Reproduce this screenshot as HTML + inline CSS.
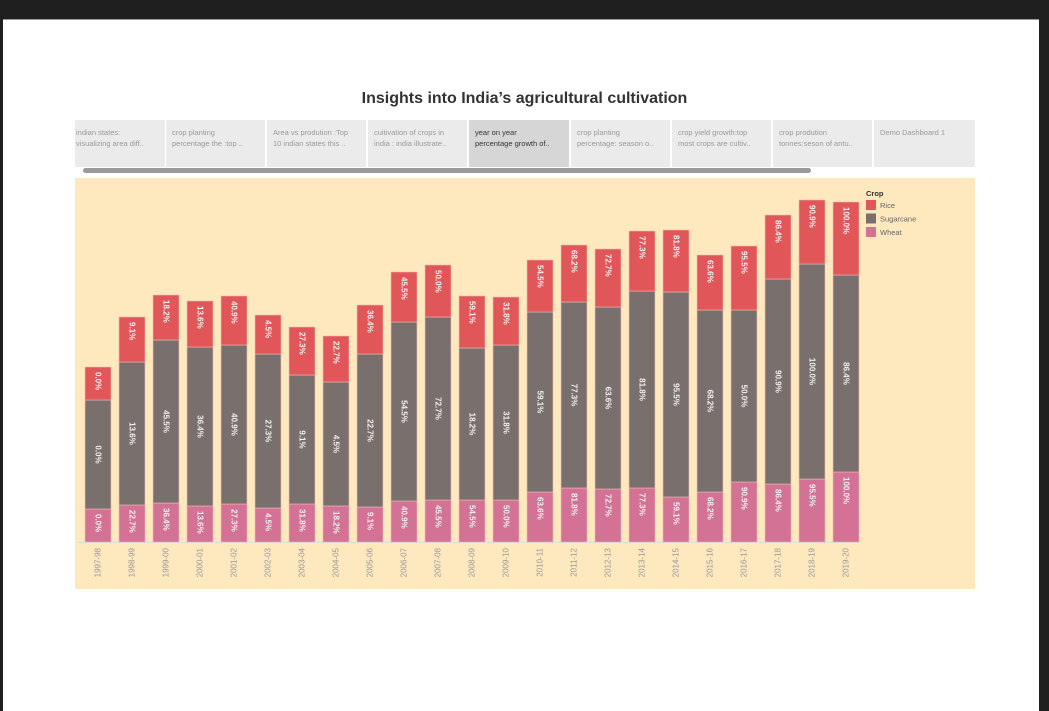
<!DOCTYPE html>
<html><head><meta charset="utf-8">
<style>
body{margin:0;width:1049px;height:710px;background:#1f1f1f;position:relative;overflow:hidden;font-family:"Liberation Sans",sans-serif;}
#page{position:absolute;left:3px;top:19px;width:1036px;height:691px;background:#fff;border-top:1px solid #999;}
#title{position:absolute;left:0;width:1049px;top:90px;text-align:center;font-size:16px;font-weight:bold;color:#333;}
.tab{position:absolute;top:120px;height:47px;width:99px;background:#ebebeb;color:#999;font-size:7.5px;line-height:11px;padding:7px 0 0 6px;box-sizing:border-box;overflow:hidden;white-space:nowrap;}
.tab.active{background:#d6d6d6;color:#333;}
#scroll{position:absolute;left:83px;top:168px;width:728px;height:5px;border-radius:3px;background:#9a9a9a;}
#panel{position:absolute;left:75px;top:178px;width:900px;height:411px;background:#fee8be;}
svg{position:absolute;left:0;top:0;}
</style></head>
<body>
<div id="page"></div>
<div id="title">Insights into India’s agricultural cultivation</div>
<div class="tab" style="left:75px;width:90px;padding-left:1px">indian states:<br>visualizing area diff..</div>
<div class="tab" style="left:166px">crop planting<br>percentage the :top ..</div>
<div class="tab" style="left:267px">Area vs prodution :Top<br>10 indian states this ..</div>
<div class="tab" style="left:368px">cuitivation of crops in<br>india : india illustrate..</div>
<div class="tab active" style="left:469px;width:100px">year on year<br>percentage growth of..</div>
<div class="tab" style="left:571px">crop planting<br>percentage: season o..</div>
<div class="tab" style="left:672px">crop yield growth:top<br>most crops are cultiv..</div>
<div class="tab" style="left:773px">crop prodution<br>tonnes:seson of antu..</div>
<div class="tab" style="left:874px;width:101px">Demo Dashboard 1</div>
<div id="scroll"></div>
<div id="panel"></div>
<svg id="chart" width="1049" height="710"></svg>
<script>
const categories=["1997-98","1998-99","1999-00","2000-01","2001-02","2002-03","2003-04","2004-05","2005-06","2006-07","2007-08","2008-09","2009-10","2010-11","2011-12","2012-13","2013-14","2014-15","2015-16","2016-17","2017-18","2018-19","2019-20"];
const wheatValues=[33,37,39,36,38,34,38,36,35,41,42,42,42,50,54,53,54,45,50,60,58,63,70];
const sugarcaneValues=[109,143,163,159,159,154,129,124,153,179,183,152,155,180,186,182,197,205,182,172,205,215,197];
const riceValues=[33,45,45,46,49,39,48,46,49,50,52,52,48,52,57,58,60,62,55,64,64,64,73];
const riceLabels=["0.0%","9.1%","18.2%","13.6%","40.9%","4.5%","27.3%","22.7%","36.4%","45.5%","50.0%","59.1%","31.8%","54.5%","68.2%","72.7%","77.3%","81.8%","63.6%","95.5%","86.4%","90.9%","100.0%"];
const sugarcaneLabels=["0.0%","13.6%","45.5%","36.4%","40.9%","27.3%","9.1%","4.5%","22.7%","54.5%","72.7%","18.2%","31.8%","59.1%","77.3%","63.6%","81.8%","95.5%","68.2%","50.0%","90.9%","100.0%","86.4%"];
const wheatLabels=["0.0%","22.7%","36.4%","13.6%","27.3%","4.5%","31.8%","18.2%","9.1%","40.9%","45.5%","54.5%","50.0%","63.6%","81.8%","72.7%","77.3%","59.1%","68.2%","90.9%","86.4%","95.5%","100.0%"];

const NS="http://www.w3.org/2000/svg";
const svg=document.getElementById('chart');
const baseY=542, plotTop=192, maxV=350;
function yScale(v){return baseY-v*(baseY-plotTop)/maxV;}
function xScale(i){return 85+i*34;}
const bw=26;
function mk(tag,attrs){const e=document.createElementNS(NS,tag);for(const k in attrs)e.setAttribute(k,attrs[k]);svg.appendChild(e);return e;}
const axis=mk('line',{x1:78,x2:860,y1:baseY+0.5,y2:baseY+0.5,stroke:'#ddd','stroke-width':1});


const series=[["wheat",wheatValues,wheatLabels,"#d37295","start"],["sugarcane",sugarcaneValues,sugarcaneLabels,"#79706e","middle"],["rice",riceValues,riceLabels,"#e15759","start"]];
categories.forEach((c,i)=>{
  let cum=0;const x=xScale(i);
  series.forEach(s=>{
    const v=s[1][i];const y0=yScale(cum),y1=yScale(cum+v);cum+=v;
    const r=mk('rect',{x:x,y:y1,width:bw,height:y0-y1,fill:s[3],stroke:'#f4b8b0','stroke-width':0.6});
    
    
    const cx=x+bw/2;const ty=s[4]==='middle'?(y0+y1)/2:y1+5;
    const t=mk('text',{x:cx,y:ty,transform:`rotate(90 ${cx} ${ty})`,'text-anchor':s[4],'dominant-baseline':'central','font-size':8,'font-weight':'bold',fill:'#f2f2f2'});
    t.textContent=s[2][i];
    
    
  });
  const lx=x+bw/2,ly=baseY+6;
  const xl=mk('text',{x:lx,y:ly,transform:`rotate(-90 ${lx} ${ly})`,'text-anchor':'end','dominant-baseline':'central','font-size':8,fill:'#999'});
  xl.textContent=c;
  
  
});
const lt=mk('text',{x:866,y:196,'font-size':7.5,'font-weight':'bold',fill:'#333'});
lt.textContent='Crop';


[["Rice","#e15759"],["Sugarcane","#79706e"],["Wheat","#d37295"]].forEach((l,k)=>{
  const y=200+k*13.5;
  const sw=mk('rect',{x:866,y:y,width:10,height:10,fill:l[1]});
  
  
  const t=mk('text',{x:880,y:y+8,'font-size':7.5,fill:'#666'});
  t.textContent=l[0];
  
  
});
</script>
</body></html>
